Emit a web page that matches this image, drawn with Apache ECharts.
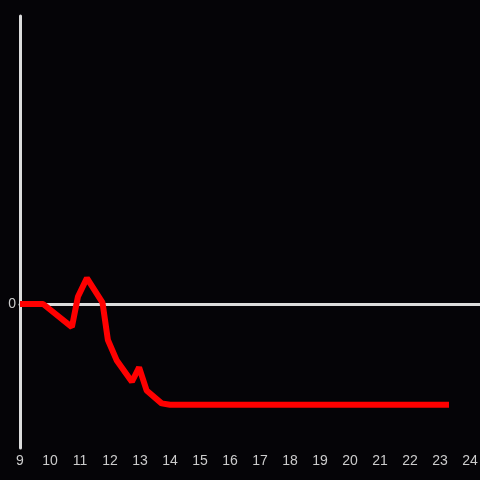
<!DOCTYPE html>
<html>
<head>
<meta charset="utf-8">
<script src="https://cdn.jsdelivr.net/npm/echarts@6/dist/echarts.min.js"></script>
<style>
  html, body { margin: 0; padding: 0; background: #050407; }
  #chart { width: 480px; height: 480px; }
</style>
</head>
<body>
<div id="chart"></div>
<script>
  // hours of the day and the measured value
  var hours = [9, 9.77, 10.73, 10.93, 11.23, 11.75, 11.93, 12.22, 12.73, 12.97, 13.22, 13.72, 14, 23.3];
  var values = [0, 0, -0.16, 0.05, 0.18, 0.01, -0.25, -0.39, -0.54, -0.44, -0.6, -0.69, -0.7, -0.7];

  var xMin = 9, xMax = 9 + 460 / 30;
  var axisColor = '#dcdcdc';

  var chart = echarts.init(document.getElementById('chart'));
  chart.setOption({
    backgroundColor: '#050407',
    animation: false,
    grid: { left: 20, right: 0, top: 16, bottom: 32, outerBoundsMode: 'none', containLabel: false },
    xAxis: [
      {
        type: 'value',
        min: xMin,
        max: xMax,
        interval: 1,
        axisLine: { onZero: true, lineStyle: { color: axisColor, width: 3 } },
        axisTick: { show: false },
        axisLabel: { show: false },
        splitLine: { show: false }
      },
      {
        type: 'value',
        position: 'bottom',
        min: xMin,
        max: xMax,
        interval: 1,
        axisLine: { show: false, onZero: false },
        axisTick: { show: false },
        axisLabel: {
          color: '#cccccc',
          fontSize: 14,
          margin: 6,
          formatter: function (v) { return Number.isInteger(v) ? String(v) : ''; }
        },
        splitLine: { show: false }
      }
    ],
    yAxis: {
      type: 'value',
      min: -1,
      max: 2,
      interval: 1,
      axisLine: { show: true, lineStyle: { color: axisColor, width: 3 } },
      axisTick: { show: false },
      axisLabel: {
        color: '#cccccc',
        fontSize: 14,
        margin: 4,
        formatter: function (v) { return v === 0 ? '0' : ''; }
      },
      splitLine: { show: false }
    },
    series: [
      {
        type: 'line',
        xAxisIndex: 0,
        data: hours.map(function (h, i) { return [h, values[i]]; }),
        showSymbol: false,
        lineStyle: { color: '#ff0000', width: 6 }
      }
    ]
  });
</script>
</body>
</html>
